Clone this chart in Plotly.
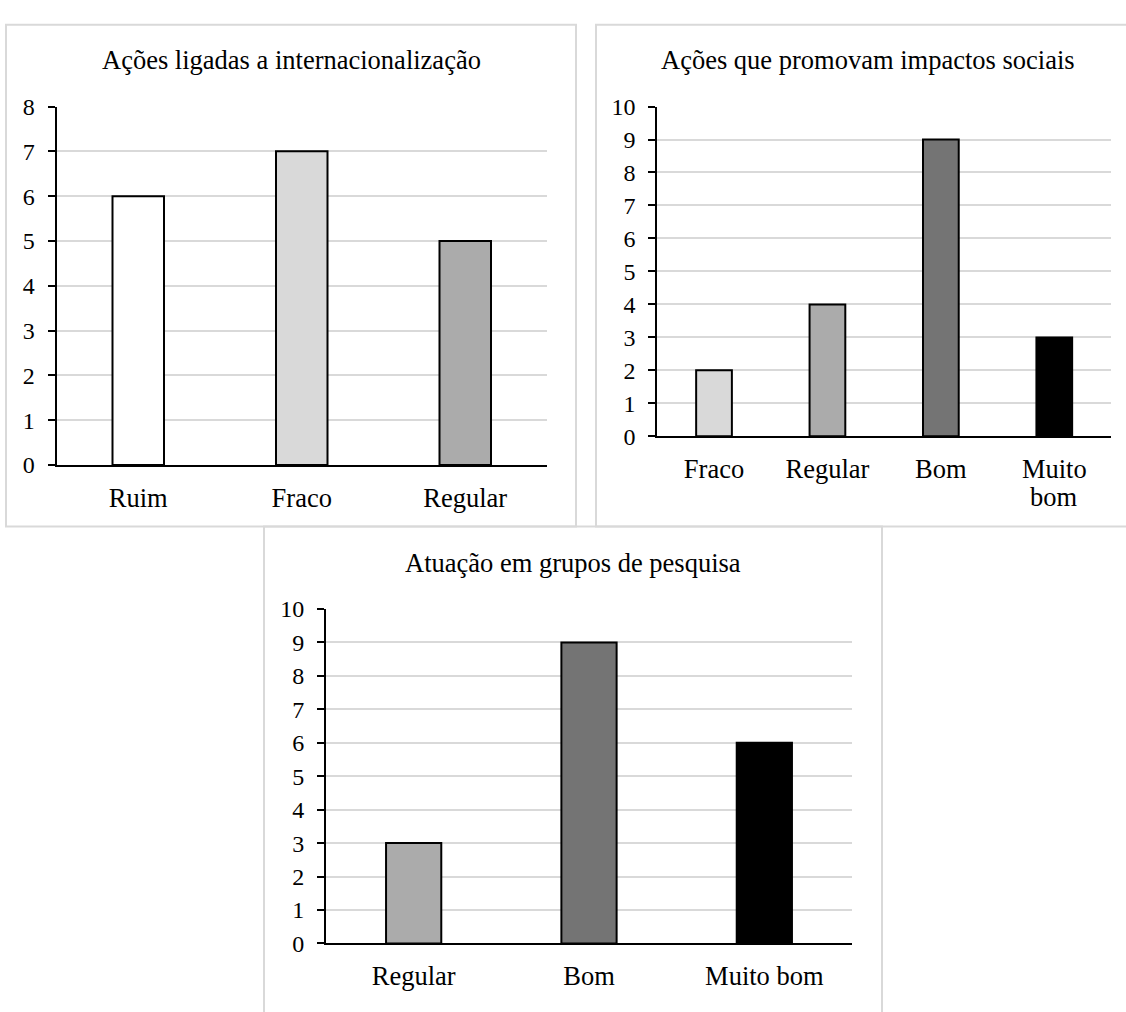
import plotly.graph_objects as go

# ---- data ----
cats1 = ["Ruim", "Fraco", "Regular"]
vals1 = [6, 7, 5]
title1 = "Ações ligadas a internacionalização"

cats2 = ["Fraco", "Regular", "Bom", "Muito bom"]
vals2 = [2, 4, 9, 3]
title2 = "Ações que promovam impactos sociais"

cats3 = ["Regular", "Bom", "Muito bom"]
vals3 = [3, 9, 6]
title3 = "Atuação em grupos de pesquisa"

colors = {"Ruim": "#ffffff", "Fraco": "#d9d9d9", "Regular": "#ababab",
          "Bom": "#747474", "Muito bom": "#000000"}

W, H = 1126, 1012
FONT = "Liberation Serif"


def px(x):
    return x / W


def py(y):
    return 1 - y / H


fig = go.Figure()

# cats, vals, title, axis suffix, plot x px, plot y px (top, bottom), ymax, wrap labels
panels = [
    (cats1, vals1, title1, "", (56.5, 547), (96, 464), 8, False),
    (cats2, vals2, title2, "2", (657.3, 1111), (96, 434.5), 10, True),
    (cats3, vals3, title3, "3", (326, 852), (611.7, 955), 10, False),
]

layout = dict(
    width=W, height=H, margin=dict(l=0, r=0, t=0, b=0),
    paper_bgcolor="white", plot_bgcolor="white",
    bargap=0.685, showlegend=False,
    font=dict(family=FONT, color="black"),
)
annotations = []

for cats, vals, title, s, (x0, x1), (ytop, ybot), ymax, wrap in panels:
    fig.add_trace(go.Bar(
        x=cats, y=vals,
        marker=dict(color=[colors[c] for c in cats],
                    line=dict(color="black", width=2)),
        xaxis="x" + s, yaxis="y" + s, hoverinfo="skip",
    ))
    if wrap:
        ticktext = [c.split(" ")[0] for c in cats]
        for c in cats:
            rest = " ".join(c.split(" ")[1:])
            if rest:
                annotations.append(dict(
                    text=rest, x=c, xref="x" + s, y=py(ybot + 62),
                    yref="paper", xanchor="center", yanchor="middle",
                    showarrow=False,
                    font=dict(family=FONT, size=26.5, color="black")))
    else:
        ticktext = cats
    layout["xaxis" + s] = dict(
        domain=[px(x0), px(x1)], anchor="y" + s,
        type="category", tickvals=cats, ticktext=ticktext,
        showline=True, linecolor="black", linewidth=2,
        showgrid=False, ticks="", zeroline=False,
        tickfont=dict(family=FONT, size=26.5, color="black"),
        ticklabelstandoff=8,
    )
    layout["yaxis" + s] = dict(
        domain=[py(ybot), py(ytop)], anchor="x" + s,
        range=[0, ymax], tick0=0, dtick=1,
        showgrid=True, gridcolor="#d9d9d9", gridwidth=2,
        showline=True, linecolor="black", linewidth=2,
        ticks="outside", ticklen=7, tickwidth=2, tickcolor="black",
        zeroline=False,
        tickfont=dict(family=FONT, size=24, color="black"),
        ticklabelstandoff=8,
    )

# panel borders (the right panel and bottom panel extend beyond the canvas)
borders = [(6, 12, 576, 527), (596, 12, 1139, 527), (264, 527, 882, 1030)]
shapes = []
for bx0, by0, bx1, by1 in borders:
    shapes.append(dict(type="rect", xref="paper", yref="paper",
                       x0=px(bx0), x1=px(bx1), y0=py(by1), y1=py(by0),
                       line=dict(color="#d9d9d9", width=2),
                       fillcolor="rgba(0,0,0,0)", layer="below"))
layout["shapes"] = shapes

# chart titles
title_pos = [(title1, 291, 48), (title2, 867.5, 48), (title3, 573, 564)]
for t, tx, ty in title_pos:
    annotations.append(dict(
        text=t, x=px(tx), y=py(ty), xref="paper", yref="paper",
        xanchor="center", yanchor="middle", showarrow=False,
        font=dict(family=FONT, size=26.5, color="black")))
layout["annotations"] = annotations

fig.update_layout(**layout)
fig.write_html(
    "out.html",
    config={"displayModeBar": False},
    post_script="document.body.style.margin='0';"
                "document.body.style.overflow='hidden';",
)
